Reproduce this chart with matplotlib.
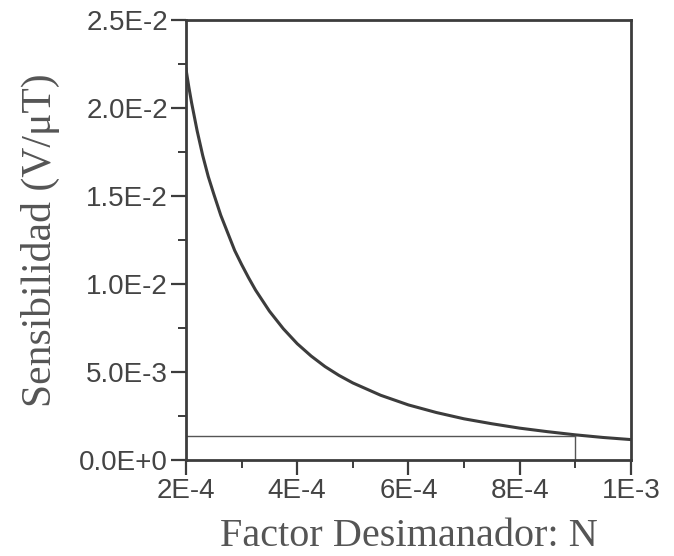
import matplotlib
matplotlib.use("Agg")
import matplotlib.pyplot as plt
from matplotlib.ticker import MultipleLocator

# valores
N = [2.0e-4, 2.05e-4, 2.1e-4, 2.2e-4, 2.3e-4, 2.4e-4, 2.5e-4, 2.625e-4, 2.75e-4,
     2.875e-4, 3.0e-4, 3.125e-4, 3.25e-4, 3.5e-4, 3.75e-4, 4.0e-4, 4.25e-4,
     4.5e-4, 4.75e-4, 5.0e-4, 5.5e-4, 6.0e-4, 6.5e-4, 7.0e-4, 7.5e-4, 8.0e-4,
     8.5e-4, 9.0e-4, 9.5e-4, 1.0e-3]
S = [22.2e-3, 21.2e-3, 20.3e-3, 18.7e-3, 17.3e-3, 16.1e-3, 15.1e-3, 13.9e-3, 12.9e-3,
     11.9e-3, 11.1e-3, 10.35e-3, 9.65e-3, 8.45e-3, 7.45e-3, 6.6e-3, 5.9e-3,
     5.3e-3, 4.8e-3, 4.37e-3, 3.67e-3, 3.12e-3, 2.69e-3, 2.33e-3, 2.05e-3, 1.8e-3,
     1.6e-3, 1.42e-3, 1.27e-3, 1.15e-3]

# lineas de referencia
N_ref = 9.0e-4
S_ref = 1.33e-3

xticks = [2e-4, 4e-4, 6e-4, 8e-4, 1e-3]
xlabels = ["2E-4", "4E-4", "6E-4", "8E-4", "1E-3"]
yticks = [0, 5e-3, 1e-2, 1.5e-2, 2e-2, 2.5e-2]
ylabels = ["0.0E+0", "5.0E-3", "1.0E-2", "1.5E-2", "2.0E-2", "2.5E-2"]

gris = "#3c3c3c"

fig = plt.figure(figsize=(6.74, 5.56), dpi=100)
ax = fig.add_axes([0.276, 0.173, 0.66, 0.791])

ax.plot(N, S, color=gris, lw=2.2)
ax.plot([2e-4, N_ref], [S_ref, S_ref], color="#555555", lw=1.0)
ax.plot([N_ref, N_ref], [0, S_ref], color="#555555", lw=1.0)

ax.set_xlim(2e-4, 1e-3)
ax.set_ylim(0, 2.5e-2)
ax.set_xticks(xticks)
ax.set_xticklabels(xlabels)
ax.set_yticks(yticks)
ax.set_yticklabels(ylabels)
ax.xaxis.set_minor_locator(MultipleLocator(1e-4))
ax.yaxis.set_minor_locator(MultipleLocator(2.5e-3))

for s in ax.spines.values():
    s.set_linewidth(2.0)
    s.set_color(gris)

ax.tick_params(which="major", direction="out", length=11, width=1.6, color=gris,
               labelsize=20, labelcolor="#444444", pad=2)
ax.tick_params(which="minor", direction="out", length=6, width=1.4, color=gris)
for lab in ax.get_xticklabels() + ax.get_yticklabels():
    lab.set_family("Liberation Sans")

ax.set_xlabel("Factor Desimanador: N", family="Liberation Serif", fontsize=29,
              color="#555555", labelpad=10)
ax.set_ylabel("Sensibilidad (V/\u03bcT)", family="Liberation Serif", fontsize=30,
              color="#555555", labelpad=14)

fig.savefig("out.png", dpi=100)
